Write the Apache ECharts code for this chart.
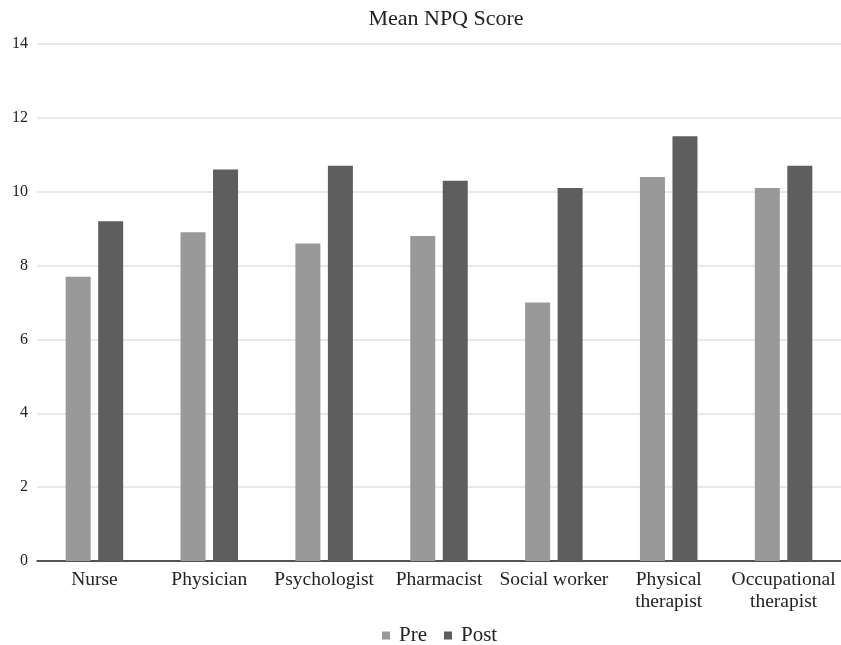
<!DOCTYPE html>
<html><head><meta charset="utf-8">
<script src="https://cdn.jsdelivr.net/npm/echarts@6/dist/echarts.min.js"></script>
<style>html,body{margin:0;padding:0;background:#fff}#c{width:841px;height:645px}</style>
</head><body><div id="c"></div>
<script>
const categories = ["Nurse","Physician","Psychologist","Pharmacist","Social worker","Physical\ntherapist","Occupational\ntherapist"];
const preValues = [7.7, 8.9, 8.6, 8.8, 7.0, 10.4, 10.1];
const postValues = [9.2, 10.6, 10.7, 10.3, 10.1, 11.5, 10.7];
const yTicks = { min: 0, max: 14, interval: 2 };
const font = "Liberation Serif";
const chart = echarts.init(document.getElementById('c'));
chart.setOption({
  animation: false,
  title: { text: "Mean NPQ Score", left: 441, textAlign: 'center', top: 3,
    textStyle: { fontFamily: font, fontWeight: 'normal', fontSize: 22, color: '#222' } },
  legend: { top: 625, left: 382, padding: 0, itemWidth: 8, itemHeight: 8, itemGap: 17, icon: 'rect',
    textStyle: { fontFamily: font, fontSize: 21, color: '#222', padding: [0, 0, 0, 4] } },
  grid: { left: 37, right: 0, top: 44, bottom: 84, outerBoundsMode: 'none' },
  xAxis: { type: 'category', data: categories,
    axisLine: { lineStyle: { color: '#222', width: 1.5 } }, axisTick: { show: false },
    axisLabel: { fontFamily: font, fontSize: 19.5, color: '#222', margin: 8, lineHeight: 22, interval: 0 } },
  yAxis: { type: 'value', min: yTicks.min, max: yTicks.max, interval: yTicks.interval,
    axisLine: { show: false }, axisTick: { show: false },
    splitLine: { lineStyle: { color: '#e2e2e2', width: 1.5 } },
    axisLabel: { fontFamily: font, fontSize: 16, color: '#222', margin: 9 } },
  series: [
    { name: 'Pre', type: 'bar', data: preValues, itemStyle: { color: '#999999' }, barWidth: 25, barGap: '30%' },
    { name: 'Post', type: 'bar', data: postValues, itemStyle: { color: '#5e5e5e' }, barWidth: 25 }
  ]
});
</script></body></html>
